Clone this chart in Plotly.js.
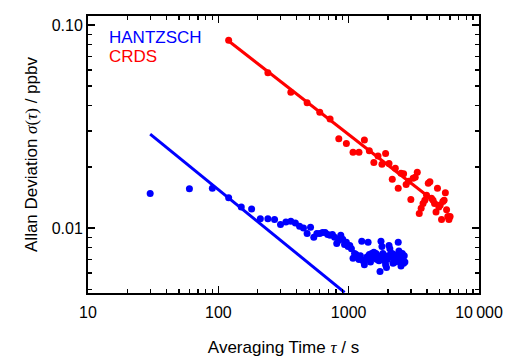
<!DOCTYPE html>
<html>
<head>
<meta charset="utf-8">
<script src="https://cdn.plot.ly/plotly-3.0.1.min.js"></script>
<style>html,body{margin:0;padding:0;background:#fff;}#chart{width:506px;height:357px;}</style>
</head>
<body>
<div id="chart"></div>
<script>
// HANTZSCH Allan deviation (tau = 30 s steps)
var hantzschTau = [30,60,90,120,150,180,210,240,270,300,330,360,390,420,450,480,510,540,570,600,
  630,660,690,720,750,780,810,840,870,900,930,960,990,1020,1050,1080,1110,1140,1170,1200,
  1230,1260,1290,1320,1350,1380,1410,1440,1470,1500,1530,1560,1590,1620,1650,1680,1710,1740,1770,1800,
  1830,1860,1890,1920,1950,1980,2010,2040,2070,2100,2130,2160,2190,2220,2250,2280,2310,2340,2370,2400,
  2430,2460,2490,2520,2550,2580,2610,2640,2670,2700];
var hantzschSigma = [0.0148,0.0156,0.0157,0.0141,0.0127,0.0124,0.0111,0.0111,0.0110,0.0104,
  0.0107,0.0108,0.0106,0.0102,0.0100,0.0094,0.0101,0.0090,0.0094,0.0094,
  0.0095,0.0095,0.0093,0.0092,0.0093,0.0090,0.0084,0.0087,0.0092,0.0088,
  0.0083,0.0085,0.0081,0.0082,0.0079,0.0071,0.0075,0.0074,0.0072,0.0070,
  0.0073,0.0086,0.0069,0.0066,0.0070,0.0072,0.0085,0.0074,0.0068,0.0075,
  0.0072,0.0076,0.0071,0.0075,0.0070,0.0073,0.0069,0.0061,0.0086,0.0081,
  0.0075,0.0072,0.0069,0.0066,0.0064,0.0070,0.0073,0.0082,0.0079,0.0074,
  0.0072,0.0075,0.0067,0.0070,0.0072,0.0068,0.0071,0.0069,0.0074,0.0085,
  0.0077,0.0073,0.0069,0.0065,0.0070,0.0075,0.0072,0.0067,0.0073,0.0068];
// CRDS Allan deviation (tau = 120 s steps)
var crdsTau = [120,240,360,480,600,720,840,960,1080,1200,1320,1440,1560,1680,1800,1920,2040,2160,2280,2400,
  2520,2640,2760,2880,3000,3120,3240,3360,3480,3600,3720,3840,3960,4080,4200,4320,4440,4560,4680,4800,
  4920,5040,5160,5280,5400,5520,5640,5760,5880,6000];
var crdsSigma = [0.084,0.0582,0.0466,0.0414,0.0372,0.0344,0.0275,0.0261,0.0236,0.0236,
  0.0271,0.0240,0.0210,0.0226,0.0206,0.0233,0.0208,0.0174,0.0197,0.0157,
  0.0186,0.0185,0.0164,0.0170,0.0138,0.0176,0.0178,0.0188,0.0118,0.0125,
  0.0132,0.0137,0.0145,0.0166,0.0169,0.0140,0.0137,0.0132,0.0120,0.0157,
  0.0127,0.0130,0.0110,0.0135,0.0137,0.0149,0.0123,0.0114,0.0110,0.0114];
// white-noise reference lines (end points)
var hantzschFitTau = [30, 930];
var hantzschFitSigma = [0.029, 0.00482];
var crdsFitTau = [120, 5200];
var crdsFitSigma = [0.0833, 0.01265];

var xTickVals = [10, 100, 1000, 10000];
var xTickText = ['10', '100', '1000', '10\u2009000'];
var yTickVals = [0.01, 0.1];
var yTickText = ['0.01', '0.10'];
var xMinor = [20,30,40,50,60,70,80,90,200,300,400,500,600,700,800,900,2000,3000,4000,5000,6000,7000,8000,9000];
var yMinor = [0.005,0.006,0.007,0.008,0.009,0.02,0.03,0.04,0.05,0.06,0.07,0.08,0.09];

var BLUE = '#0000ff', RED = '#ff0000';
var traces = [
  {x: hantzschFitTau, y: hantzschFitSigma, mode: 'lines', line: {color: BLUE, width: 3}, hoverinfo: 'skip'},
  {x: crdsFitTau, y: crdsFitSigma, mode: 'lines', line: {color: RED, width: 3}, hoverinfo: 'skip'},
  {x: hantzschTau, y: hantzschSigma, mode: 'markers', marker: {color: BLUE, size: 7}},
  {x: crdsTau, y: crdsSigma, mode: 'markers', marker: {color: RED, size: 7}}
];
var FONT = 'Liberation Sans, Arial, Helvetica, sans-serif';
var SERIF = "'Liberation Serif', 'Times New Roman', serif";
var layout = {
  width: 506, height: 357,
  margin: {l: 88, r: 27, t: 16, b: 64},
  paper_bgcolor: '#fff', plot_bgcolor: '#fff',
  showlegend: false,
  font: {family: FONT, color: '#000', size: 16},
  xaxis: {
    type: 'log', range: [1, 4],
    tickmode: 'array', tickvals: xTickVals, ticktext: xTickText,
    ticks: 'inside', ticklen: 7, tickwidth: 1.3, tickcolor: '#000',
    ticklabelstandoff: 4,
    showline: true, linewidth: 2, linecolor: '#000', mirror: 'allticks',
    showgrid: false, zeroline: false,
    tickfont: {size: 16, family: FONT},
    minor: {tickmode: 'array', tickvals: xMinor, ticks: 'inside', ticklen: 4, tickwidth: 1.3, tickcolor: '#000', showgrid: false},
    title: {text: 'Averaging Time <span style="font-family:' + SERIF + '"><i>τ</i></span> / s', font: {size: 17, family: FONT}, standoff: 22}
  },
  yaxis: {
    type: 'log', range: [-2.32, -0.956],
    tickmode: 'array', tickvals: yTickVals, ticktext: yTickText,
    ticks: 'inside', ticklen: 7, tickwidth: 1.3, tickcolor: '#000',
    showline: true, linewidth: 2, linecolor: '#000', mirror: 'allticks',
    showgrid: false, zeroline: false,
    tickfont: {size: 16, family: FONT},
    minor: {tickmode: 'array', tickvals: yMinor, ticks: 'inside', ticklen: 4, tickwidth: 1.3, tickcolor: '#000', showgrid: false},
    title: {text: 'Allan Deviation <span style="font-family:' + SERIF + '"><i>σ</i>(<i>τ</i>)</span> / ppbv', font: {size: 17, family: FONT}, standoff: 10}
  },
  annotations: [
    {xref: 'paper', yref: 'paper', x: 0.0486, y: 0.9206, xanchor: 'left', yanchor: 'middle', showarrow: false,
     text: 'HANTZSCH', font: {family: FONT, size: 17, color: BLUE}},
    {xref: 'paper', yref: 'paper', x: 0.0486, y: 0.852, xanchor: 'left', yanchor: 'middle', showarrow: false,
     text: 'CRDS', font: {family: FONT, size: 17, color: RED}}
  ]
};
Plotly.newPlot('chart', traces, layout, {staticPlot: true, displayModeBar: false});
</script>
</body>
</html>
